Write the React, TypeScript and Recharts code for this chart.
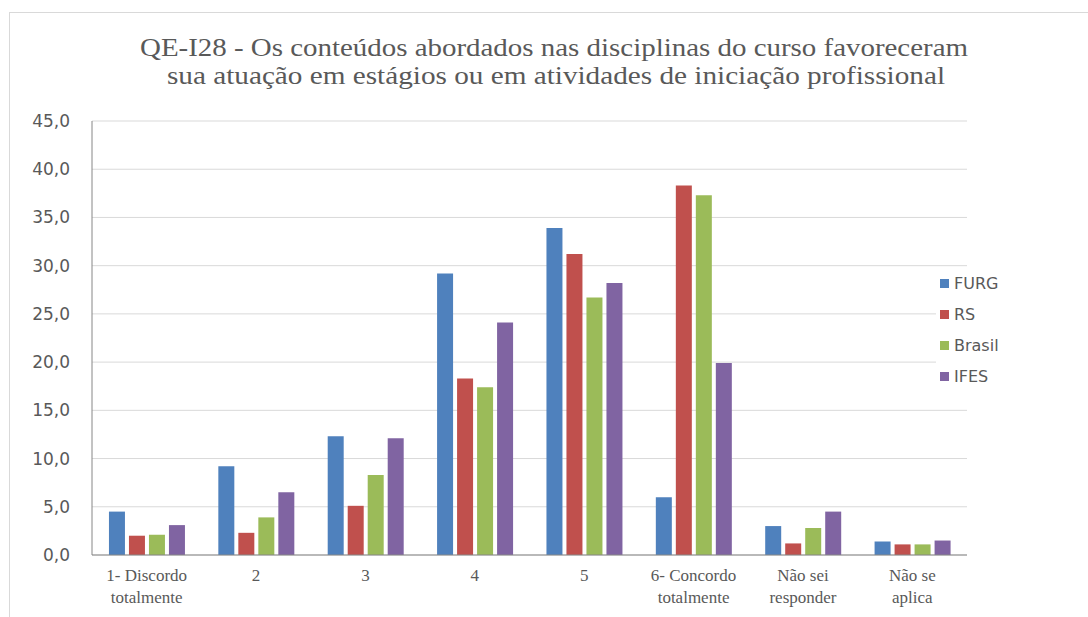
import { BarChart, Bar, XAxis, YAxis, CartesianGrid, Legend } from "recharts";

const categories = [
    "1- Discordo|totalmente",
    "2",
    "3",
    "4",
    "5",
    "6- Concordo|totalmente",
    "Não sei|responder",
    "Não se|aplica",
];

const seriesNames = ["FURG", "RS", "Brasil", "IFES"];
const furg = [4.5, 9.2, 12.3, 29.2, 33.9, 6.0, 3.0, 1.4];
const rs = [2.0, 2.3, 5.1, 18.3, 31.2, 38.3, 1.2, 1.1];
const brasil = [2.1, 3.9, 8.3, 17.4, 26.7, 37.3, 2.8, 1.1];
const ifes = [3.1, 6.5, 12.1, 24.1, 28.2, 19.9, 4.5, 1.5];

const yTicks = [0, 5, 10, 15, 20, 25, 30, 35, 40, 45];

const titleLines = [
    "QE-I28 - Os conteúdos abordados nas disciplinas do curso favoreceram",
    "sua atuação em estágios ou em atividades de iniciação profissional",
];

const data = categories.map((c, i) => ({
    name: c,
    FURG: furg[i],
    RS: rs[i],
    Brasil: brasil[i],
    IFES: ifes[i],
}));

const colors = {
    FURG: "#4F81BD",
    RS: "#C0504D",
    Brasil: "#9BBB59",
    IFES: "#8064A2",
};

function XTick(props: any) {
    const { x, y, payload } = props;
    const lines = String(payload.value).split("|");
    return (
        <text
            x={x}
            y={y}
            textAnchor="middle"
            fill="#595959"
            fontFamily="'Liberation Serif', serif"
            fontSize={17}
        >
            {lines.map((l: string, i: number) => (
                <tspan key={i} x={x} dy={i === 0 ? 18 : 22}>
                    {l}
                </tspan>
            ))}
        </text>
    );
}

function LegendContent(props: any) {
    const items = [...(props.payload || [])].sort(
        (a: any, b: any) => seriesNames.indexOf(a.value) - seriesNames.indexOf(b.value)
    );
    return (
        <div style={{ background: "#fff", padding: "0 10px 0 4px" }}>
            {items.map((p: any) => (
                <div
                    key={p.value}
                    style={{ display: "flex", alignItems: "center", height: 31 }}
                >
                    <span
                        style={{
                            width: 9,
                            height: 9,
                            background: p.color,
                            marginRight: 5,
                            display: "inline-block",
                        }}
                    />
                    <span
                        style={{
                            fontFamily: "'DejaVu Sans', sans-serif",
                            fontSize: 16,
                            color: "#595959",
                        }}
                    >
                        {p.value}
                    </span>
                </div>
            ))}
        </div>
    );
}

export default function App() {
    return (
        <div style={{ position: "relative", width: 1088, height: 617, background: "#fff", overflow: "hidden" }}>
            <style>{"body{margin:0}"}</style>
            <div
                style={{
                    position: "absolute",
                    left: 9,
                    top: 12,
                    width: 1100,
                    height: 620,
                    border: "1px solid #d9d9d9",
                }}
            />
            <svg width={1088} height={110} style={{ position: "absolute", left: 0, top: 0 }}>
                <text
                    x={140}
                    y={56}
                    textLength={828}
                    lengthAdjust="spacingAndGlyphs"
                    fill="#595959"
                    fontFamily="'Liberation Serif', serif"
                    fontSize={25}
                >
                    {titleLines[0]}
                </text>
                <text
                    x={167}
                    y={84}
                    textLength={778}
                    lengthAdjust="spacingAndGlyphs"
                    fill="#595959"
                    fontFamily="'Liberation Serif', serif"
                    fontSize={25}
                >
                    {titleLines[1]}
                </text>
            </svg>
            <div style={{ position: "absolute", left: 0, top: 0 }}>
                <BarChart
                    width={1088}
                    height={617}
                    data={data}
                    margin={{ top: 121, right: 121, bottom: 0, left: 0 }}
                    barCategoryGap="15.5%"
                    barGap={4}
                >
                    <CartesianGrid vertical={false} stroke="#d9d9d9" />
                    <XAxis
                        dataKey="name"
                        tick={<XTick />}
                        tickLine={false}
                        axisLine={{ stroke: "#868686" }}
                        interval={0}
                        height={62}
                    />
                    <YAxis
                        domain={[0, 45]}
                        ticks={yTicks}
                        width={92}
                        tickLine={false}
                        tickSize={0}
                        tickMargin={22}
                        axisLine={{ stroke: "#868686" }}
                        tickFormatter={(v: number) => v.toFixed(1).replace(".", ",")}
                        tick={{ fill: "#595959", fontSize: 17, fontFamily: "'DejaVu Sans', sans-serif" }}
                    />
                    <Legend
                        layout="vertical"
                        align="center"
                        verticalAlign="middle"
                        content={<LegendContent />}
                        wrapperStyle={{ left: 936, top: 268, width: "auto" }}
                    />
                    <Bar dataKey="FURG" fill={colors.FURG} isAnimationActive={false} />
                    <Bar dataKey="RS" fill={colors.RS} isAnimationActive={false} />
                    <Bar dataKey="Brasil" fill={colors.Brasil} isAnimationActive={false} />
                    <Bar dataKey="IFES" fill={colors.IFES} isAnimationActive={false} />
                </BarChart>
            </div>
        </div>
    );
}
